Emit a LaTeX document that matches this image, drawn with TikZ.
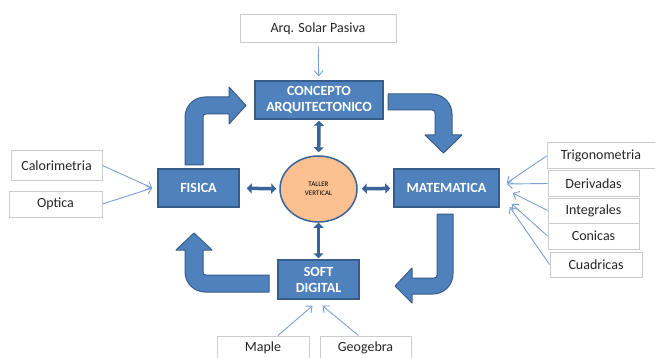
\documentclass[tikz,border=0pt]{standalone}
\usepackage{fontspec}
\setmainfont{Carlito}
\usepackage{tikz}
\usepackage{xcolor}
\usetikzlibrary{arrows.meta,shapes.geometric}
\definecolor{boxblue}{HTML}{4F81BD}
\definecolor{edgeblue}{HTML}{385D8A}
\definecolor{darkblue}{HTML}{3A6399}
\definecolor{lineblue}{HTML}{7BA0D4}
\definecolor{peach}{HTML}{FAC090}

\begin{document}
\begin{tikzpicture}[x=1pt,y=-1pt,
    mainbox/.style={draw=edgeblue,fill=boxblue,line width=1.5pt,text=white,
      font=\fontsize{14}{16}\selectfont\bfseries,align=center,inner sep=0pt},
    sidebox/.style={draw=black!20,fill=white,line width=1pt,text=black!85,
      font=\fontsize{14}{16}\selectfont,inner sep=0pt},
    thinarrow/.style={draw=lineblue,line width=0.9pt,
      -{Straight Barb[length=5pt,width=9pt]}},
    dblarrow/.style={draw=darkblue,line width=3.5pt,
      {Triangle[length=5pt,width=10pt]}-{Triangle[length=5pt,width=10pt]}},
    bentarrow/.style={draw=edgeblue,fill=boxblue,line width=1pt,line join=round}]
          \useasboundingbox (0,0) rectangle (655,358);

          % main boxes
          \node[mainbox,minimum width=128pt,minimum height=38pt] (conc) at (319,100) {CONCEPTO\\ARQUITECTONICO};
          \node[mainbox,minimum width=81pt,minimum height=38pt] (fis) at (198.5,188) {FISICA};
          \node[mainbox,minimum width=105pt,minimum height=38pt] (mat) at (446.5,188) {MATEMATICA};
          \node[mainbox,minimum width=81pt,minimum height=39pt] (soft) at (318.5,279.5) {SOFT\\DIGITAL};
          \node[ellipse,draw=darkblue,fill=peach,line width=1.5pt,minimum width=77pt,
            minimum height=66pt,inner sep=0pt,align=center,text=black,font=\fontsize{7}{9}\selectfont]
            (taller) at (318.5,189) {TALLER\\VERTICAL};

          % side boxes
          \node[sidebox,minimum width=156pt,minimum height=28pt] (arq) at (318,29) {Arq. Solar Pasiva};
          \node[sidebox,minimum width=91pt,minimum height=29pt] (calor) at (56.5,165.5) {Calorimetria};
          \node[sidebox,minimum width=93pt,minimum height=26pt] (optica) at (55.5,204) {Optica};
          \node[sidebox,minimum width=108pt,minimum height=26pt] (trig) at (601,156) {Trigonometria};
          \node[sidebox,minimum width=91pt,minimum height=25pt] (deriv) at (593.5,183.5) {Derivadas};
          \node[sidebox,minimum width=91pt,minimum height=25pt] (integ) at (593.5,210.5) {Integrales};
          \node[sidebox,minimum width=91pt,minimum height=26pt] (conic) at (593.5,236) {Conicas};
          \node[sidebox,minimum width=92pt,minimum height=25pt] (cuad) at (596,264.5) {Cuadricas};
          \node[sidebox,minimum width=92pt,minimum height=24pt] (maple) at (263,348) {Maple};
          \node[sidebox,minimum width=91pt,minimum height=24pt] (geog) at (365.5,348) {Geogebra};

          % thin arrows
          \draw[thinarrow,shorten <=3pt,shorten >=4pt] (arq) -- (conc);
          \draw[thinarrow] (calor.east) -- ([xshift=-5pt]fis.west);
          \draw[thinarrow] (optica.east) -- ([xshift=-5pt]fis.west);
          \draw[thinarrow] (trig.west) -- ([xshift=7pt,yshift=5pt]mat.east);
          \draw[thinarrow] (deriv.west) -- ([xshift=7pt,yshift=4pt]mat.east);
          \draw[thinarrow] (integ.west) -- ([xshift=13pt,yshift=-5pt]mat.east);
          \draw[thinarrow] (conic.west) -- ([xshift=12pt,yshift=-16pt]mat.east);
          \draw[thinarrow] (cuad.west) -- ([xshift=10pt,yshift=-19pt]mat.east);
          \draw[thinarrow] ([xshift=15pt]maple.north) -- ([xshift=-6pt,yshift=-6pt]soft.south);
          \draw[thinarrow] ([xshift=-7pt]geog.north) -- ([xshift=4pt,yshift=-6pt]soft.south);

          % double arrows
          \draw[dblarrow,shorten <=1pt,shorten >=3pt] (conc) -- (taller);
          \draw[dblarrow,shorten >=1pt] (taller) -- (soft);
          \draw[dblarrow,shorten <=7pt,shorten >=3pt] (fis) -- (taller);
          \draw[dblarrow,shorten <=4pt,shorten >=3pt] (taller) -- (mat);

          % bent arrows
          \draw[bentarrow] (185,165) -- (185,117) .. controls (185,106) and (194,97) .. (205,97)
            -- (229,97) -- (229,87) -- (246,105.5) -- (229,124) -- (229,114) -- (206,114)
            .. controls (204,114) and (203,115) .. (203,117) -- (203,165) -- cycle;
          \draw[bentarrow] (388,94) -- (432,94) .. controls (443,94) and (452,103) .. (452,114)
            -- (452,135) -- (462,135) -- (443.5,153) -- (425,135) -- (435,135) -- (435,113)
            .. controls (435,111) and (434,110) .. (432,110) -- (388,110) -- cycle;
          \draw[bentarrow] (437,214) -- (453,214) -- (453,274) .. controls (453,285) and (444,294) .. (433,294)
            -- (412,294) -- (412,303) -- (395,286) -- (412,268) -- (412,278) -- (434,278)
            .. controls (436,278) and (437,277) .. (437,275) -- cycle;
          \draw[bentarrow] (269,275) -- (269,292) -- (205,292) .. controls (194,292) and (185,283) .. (185,272)
            -- (185,250) -- (176,250) -- (194,233) -- (212,250) -- (203,250) -- (203,272)
            .. controls (203,274) and (204,275) .. (206,275) -- cycle;
        \end{tikzpicture}
\end{document}
